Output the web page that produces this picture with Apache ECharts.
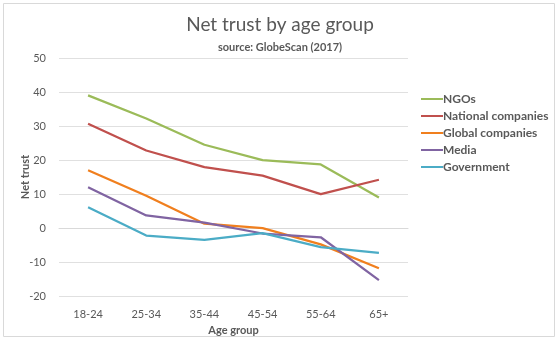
<!DOCTYPE html>
<html><head><meta charset="utf-8">
<script src="https://cdn.jsdelivr.net/npm/echarts@6/dist/echarts.min.js"></script>
<style>html,body{margin:0;padding:0;background:#fff}#c{width:560px;height:341px}</style>
</head><body><div id="c"></div>
<script>
const categories = ['18-24','25-34','35-44','45-54','55-64','65+'];
const ngos = [39, 32.2, 24.5, 20, 18.7, 9];
const nationalCompanies = [30.7, 22.8, 17.9, 15.4, 10, 14.2];
const globalCompanies = [17, 9.5, 1.3, 0, -4.8, -11.8];
const media = [12, 3.7, 1.6, -1.6, -2.7, -15.3];
const government = [6.1, -2.2, -3.5, -1.5, -5.6, -7.3];
const seriesNames = ['NGOs','National companies','Global companies','Media','Government'];
const seriesData = [ngos, nationalCompanies, globalCompanies, media, government];
const colors = ['#9BBB59','#C0504D','#F07F1E','#8064A2','#4BACC6'];
const font = 'Lato, "Open Sans", sans-serif';
const chart = echarts.init(document.getElementById('c'));
chart.setOption({
  animation:false,
  color: colors,
  graphic:[{type:'rect',shape:{x:3.5,y:3.5,width:551,height:333},style:{fill:'none',stroke:'#d9d9d9',lineWidth:1}}],
  title:[{text:'Net trust by age group',left:'center',top:10,textStyle:{fontFamily:font,fontSize:19,fontWeight:'normal',color:'#595959'}},
         {text:'source: GlobeScan (2017)',left:'center',top:37,textStyle:{fontFamily:font,fontSize:11,fontWeight:'bold',color:'#595959'}}],
  legend:{orient:'vertical',left:416,top:88,itemWidth:22,itemHeight:2,itemGap:5,icon:'rect',
    textStyle:{fontFamily:font,fontSize:12,fontWeight:'bold',color:'#595959',padding:[0,0,0,-5]},data:seriesNames},
  grid:{left:59,right:152,top:58,bottom:44,containLabel:false},
  xAxis:{type:'category',data:categories,boundaryGap:true,name:'Age group',nameLocation:'middle',nameGap:25,
    nameTextStyle:{fontFamily:font,fontSize:11,fontWeight:'bold',color:'#595959'},
    axisLine:{lineStyle:{color:'#d9d9d9'}},axisTick:{show:false},
    axisLabel:{fontFamily:font,fontSize:11,color:'#595959',margin:13}},
  yAxis:{type:'value',min:-20,max:50,interval:10,name:'Net trust',nameLocation:'middle',nameGap:28,nameRotate:90,
    nameMoveOverlap:false,
    nameTextStyle:{fontFamily:font,fontSize:11,fontWeight:'bold',color:'#595959'},
    axisLine:{show:false},axisTick:{show:false},
    splitLine:{lineStyle:{color:'#e0e0e0'}},
    axisLabel:{fontFamily:font,fontSize:11,color:'#595959',margin:13}},
  series: seriesNames.map((n,i)=>({name:n,type:'line',data:seriesData[i],symbol:'none',lineStyle:{width:2.25}}))
});
</script></body></html>
